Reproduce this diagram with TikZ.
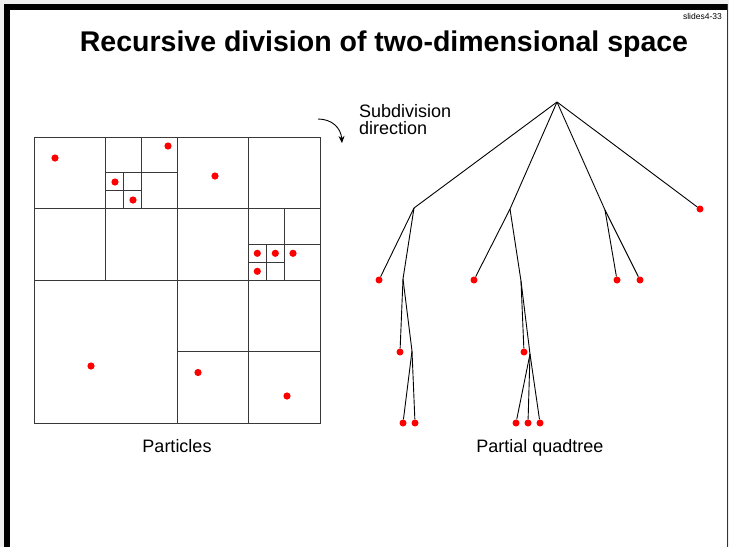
\documentclass[tikz,border=0pt]{standalone}
\usepackage{fontspec}
\setmainfont{Liberation Sans}
\usetikzlibrary{arrows.meta}
\begin{document}
\begin{tikzpicture}[x=1pt,y=-1pt,
  gridline/.style={draw=black!78, line width=1pt},
  treeline/.style={draw=black, line width=0.9pt},
  leaf/.style={circle, fill=red, inner sep=0pt, minimum size=7pt},
  inner/.style={inner sep=0pt, minimum size=0pt},
  lbl/.style={font=\fontsize{18}{20}\selectfont, inner sep=0pt}]
\useasboundingbox (0,0) rectangle (729,547);
% frame
\fill[black!6] (0,0) rectangle (729,547);
\fill[white] (4,4) rectangle (728,547);
\fill[black] (4,4) rectangle (10,547);
\fill[black] (4,4) rectangle (728,9.5);
\draw[black!80, line width=1pt] (727,4) -- (727,547);
% labels
\node[anchor=base east, font=\fontsize{8.5}{10}\selectfont, inner sep=0pt] (slide) at (722,19) {slides4-33};
\node[anchor=base, font=\bfseries\fontsize{28.5}{34}\selectfont, inner sep=0pt] (title) at (384,51) {Recursive division of two-dimensional space};
\node[lbl, anchor=base west] (sub1) at (359,117) {Subdivision};
\node[lbl, anchor=base west] (sub2) at (359,134) {direction};
\node[lbl, anchor=base] (part) at (177,452) {Particles};
\node[lbl, anchor=base] (pq) at (540,452) {Partial quadtree};
% arrow
\coordinate (ar1) at (318,119);
\coordinate (ar2) at (342,143);
\draw[black, line width=0.9pt, -{Stealth[length=7pt,width=6pt]}] (ar1) .. controls (332,119) and (341,128) .. (ar2);
% grid
\draw[gridline] (34,137) rectangle (320,423);
\draw[gridline] (177,137) -- (177,423);
\draw[gridline] (34,280) -- (320,280);
\draw[gridline] (105.5,137) -- (105.5,280);
\draw[gridline] (34,208.5) -- (320,208.5);
\draw[gridline] (248.5,137) -- (248.5,423);
\draw[gridline] (177,351.5) -- (320,351.5);
\draw[gridline] (141.25,137) -- (141.25,208.5);
\draw[gridline] (105.5,172.75) -- (177,172.75);
\draw[gridline] (123.4,172.75) -- (123.4,208.5);
\draw[gridline] (105.5,190.6) -- (141.25,190.6);
\draw[gridline] (284.25,208.5) -- (284.25,280);
\draw[gridline] (248.5,244.25) -- (320,244.25);
\draw[gridline] (266.4,244.25) -- (266.4,280);
\draw[gridline] (248.5,262.1) -- (284.25,262.1);
% particles
\foreach \p in {(55,158),(168,146),(115,182),(133,200),(215,176),
  (257.3,253.3),(275.3,253.3),(293,253.3),(257.3,271.3),(91,366),(198,372.5),(287,396)}
  \fill[red] \p circle (3.6pt);
% tree
\node[inner] (R) at (557,102) {};
\node[inner] (A) at (414,208) {};
\node[leaf] (A1) at (379,280) {};
\node[inner] (A2) at (403,279) {};
\node[leaf] (A21) at (400,352) {};
\node[inner] (A22) at (412,351) {};
\node[leaf] (A221) at (403,423) {};
\node[leaf] (A222) at (415,423) {};
\node[inner] (B) at (510,209) {};
\node[leaf] (B1) at (474,280) {};
\node[inner] (B2) at (521,281) {};
\node[leaf] (B21) at (524,352) {};
\node[inner] (B22) at (530,354) {};
\node[leaf] (B221) at (516,423) {};
\node[leaf] (B222) at (528,423) {};
\node[leaf] (B223) at (540,423) {};
\node[inner] (C) at (605,210) {};
\node[leaf] (C1) at (617,280) {};
\node[leaf] (C2) at (640,280) {};
\node[leaf] (D) at (700,209) {};
\draw[treeline] (R.center) -- (A.center);
\draw[treeline] (R.center) -- (B.center);
\draw[treeline] (R.center) -- (C.center);
\draw[treeline] (R.center) -- (D);
\draw[treeline] (A.center) -- (A1);
\draw[treeline] (A.center) -- (A2.center);
\draw[treeline] (A2.center) -- (A21);
\draw[treeline] (A2.center) -- (A22.center);
\draw[treeline] (A22.center) -- (A221);
\draw[treeline] (A22.center) -- (A222);
\draw[treeline] (B.center) -- (B1);
\draw[treeline] (B.center) -- (B2.center);
\draw[treeline] (B2.center) -- (B21);
\draw[treeline] (B2.center) -- (B22.center);
\draw[treeline] (B22.center) -- (B221);
\draw[treeline] (B22.center) -- (B222);
\draw[treeline] (B22.center) -- (B223);
\draw[treeline] (C.center) -- (C1);
\draw[treeline] (C.center) -- (C2);
\end{tikzpicture}
\end{document}
